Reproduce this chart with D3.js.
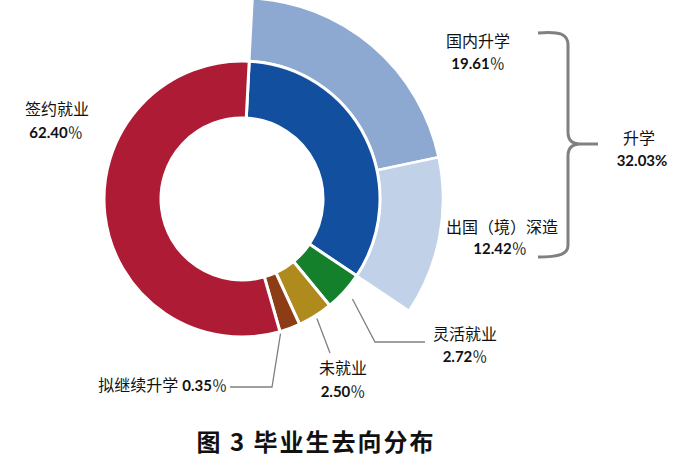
<!DOCTYPE html>
<html>
<head>
<meta charset="utf-8">
<script src="https://cdn.jsdelivr.net/npm/d3@7"></script>
<style>
  html, body { margin: 0; padding: 0; background: #fff; }
  svg { display: block; }
  .cjk { font-family: "Noto Sans CJK SC", sans-serif; font-size: 16px; fill: #111; }
  .num { font-family: Lato, "Noto Sans CJK SC", sans-serif; font-size: 15px; font-weight: 700; fill: #111; }
  .pct { font-family: "Noto Sans CJK SC", sans-serif; font-size: 15px; font-weight: 400; fill: #222; }
  .title { font-family: "Noto Sans CJK SC", sans-serif; font-size: 24px; font-weight: 700; fill: #111; letter-spacing: 2px; }
</style>
</head>
<body>
<svg id="chart" width="677" height="466"></svg>
<script>
// ---- data (slice shares as drawn in the picture, label texts as printed) ----
const innerCats   = ["升学", "灵活就业", "未就业", "拟继续升学", "签约就业"];
const innerShares = [33.56, 4.64, 4.11, 2.42, 55.27];
const innerLabels = ["32.03%", "2.72％", "2.50％", "0.35％", "62.40％"];
const innerColors = ["#12509F", "#15802B", "#AF8B1E", "#8C3D15", "#AD1B35"];

const outerCats   = ["国内升学", "出国（境）深造"];
const outerShares = [20.83, 12.73];
const outerLabels = ["19.61％", "12.42％"];
const outerColors = ["#8DA9D2", "#C0D1E8"];

const titleText = "图 3 毕业生去向分布";

// ---- layout ----
const svg = d3.select("#chart");
const cx = 242, cy = 199;
const rIn = 81, rMid = 138, rOut = 201;
const a0 = 3 * Math.PI / 180;

const g = svg.append("g").attr("transform", `translate(${cx},${cy})`);

const innerPie = d3.pie().sort(null).value(d => d)
  .startAngle(a0).endAngle(a0 + 2 * Math.PI);
const innerArcs = innerPie(innerShares);
const arcInner = d3.arc().innerRadius(rIn).outerRadius(rMid);

const outerPie = d3.pie().sort(null).value(d => d)
  .startAngle(a0).endAngle(a0 + 2 * Math.PI * d3.sum(outerShares) / 100);
const outerArcs = outerPie(outerShares);
const arcOuter = d3.arc().innerRadius(rMid).outerRadius(rOut);

g.selectAll("path.outer").data(outerArcs).join("path")
  .attr("class", "outer")
  .attr("d", arcOuter)
  .attr("fill", (d, i) => outerColors[i])
  .attr("stroke", "#fff").attr("stroke-width", 2.5).attr("stroke-linejoin", "miter");

g.selectAll("path.inner").data(innerArcs).join("path")
  .attr("class", "inner")
  .attr("d", arcInner)
  .attr("fill", (d, i) => innerColors[i])
  .attr("stroke", "#fff").attr("stroke-width", 3).attr("stroke-linejoin", "miter");

// ---- leader lines ----
function polar(a, r) { return [cx + r * Math.sin(a), cy - r * Math.cos(a)]; }
const mid = d => (d.startAngle + d.endAngle) / 2;
const line = d3.line();
const leaders = [
  [polar(mid(innerArcs[1]), 149), [375, 342], [425, 342]],
  [polar(mid(innerArcs[2]), 141), [330, 353]],
  [polar(innerArcs[3].endAngle, 140), [272, 387], [230, 387]]
];
svg.selectAll("path.leader").data(leaders).join("path")
  .attr("class", "leader")
  .attr("d", d => line(d))
  .attr("fill", "none").attr("stroke", "#808080").attr("stroke-width", 1.3);

// ---- brace ----
svg.append("path")
  .attr("d", "M538,33 C560,31 568,34 568,45 L568,132 C568,140 572,144 580,144 L598,144 M580,144 C572,144 568,148 568,156 L568,245 C568,254 560,257 538,257")
  .attr("fill", "none").attr("stroke", "#808080").attr("stroke-width", 3);

// ---- labels ----
function label(x, y, text, cls, anchor) {
  return svg.append("text").attr("class", cls).attr("x", x).attr("y", y)
    .attr("text-anchor", anchor || "middle").text(text);
}
function numLabel(sel, text) {
  const full = text.endsWith("％");
  sel.append("tspan").attr("class", "num").text(full ? text.slice(0, -1) : text);
  if (full) sel.append("tspan").attr("class", "pct").text("％");
}
function numText(x, y, text, anchor) {
  const t = svg.append("text").attr("x", x).attr("y", y).attr("text-anchor", anchor || "middle");
  numLabel(t, text);
  return t;
}
label(57, 115, innerCats[4], "cjk");
numText(56, 138, innerLabels[4]);
label(478, 47, outerCats[0], "cjk");
numText(478, 69, outerLabels[0]);
label(502, 233, outerCats[1], "cjk");
numText(500, 254, outerLabels[1]);
label(639, 144, innerCats[0], "cjk");
numText(642, 166, innerLabels[0]);
label(465, 340, innerCats[1], "cjk");
numText(465, 362, innerLabels[1]);
label(343, 374, innerCats[2], "cjk");
numText(343, 397, innerLabels[2]);

const t = svg.append("text").attr("x", 227).attr("y", 391).attr("text-anchor", "end");
t.append("tspan").attr("class", "cjk").text(innerCats[3]);
t.append("tspan").attr("class", "num").attr("dx", 4).text(innerLabels[3].slice(0, -1));
t.append("tspan").attr("class", "pct").text("％");

label(316, 451, titleText, "title");
</script>
</body>
</html>
